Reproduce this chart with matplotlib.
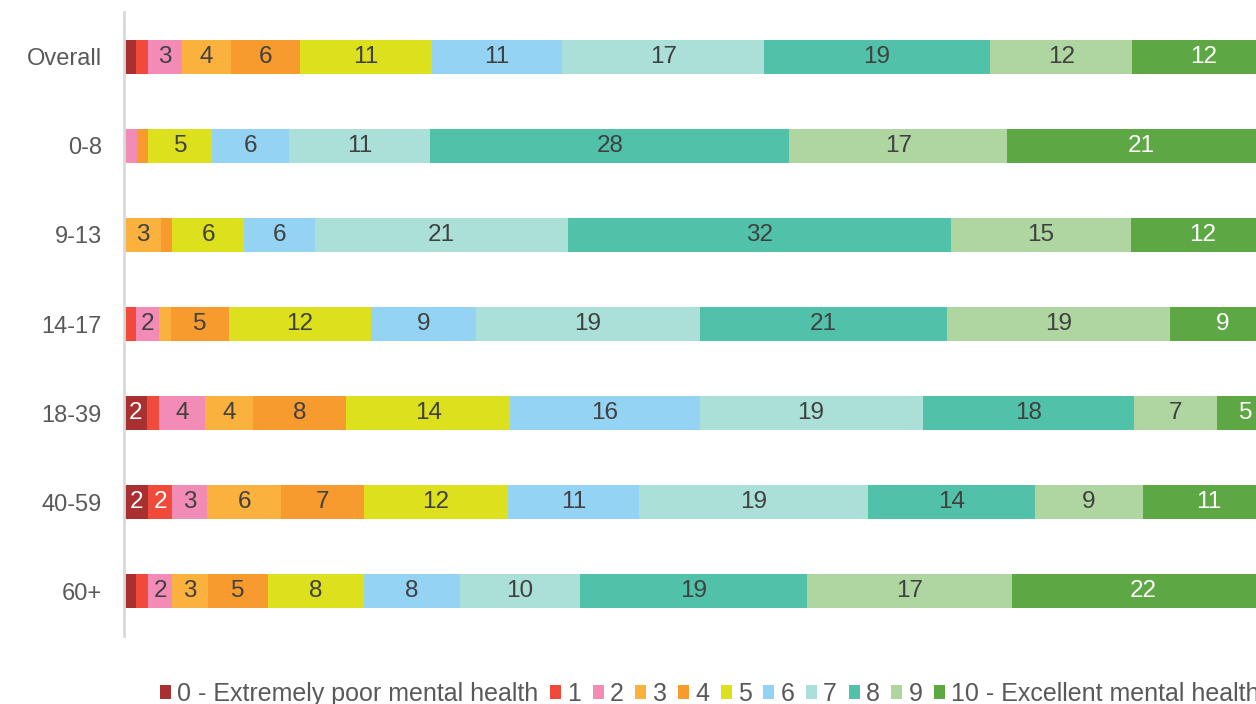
import matplotlib.pyplot as plt
from matplotlib.patches import Patch
import numpy as np

plt.rcParams['font.family'] = ['Liberation Sans', 'DejaVu Sans']

groups = ['Overall', '0-8', '9-13', '14-17', '18-39', '40-59', '60+']
score_names = ['0 - Extremely poor mental health', '1', '2', '3', '4', '5',
               '6', '7', '8', '9', '10 - Excellent mental health']

# percent answering each score, one list per score, one entry per group
score0 = [1.0, 0.0, 0.0, 0.0, 2.0, 2.0, 1.0]
score1 = [1.0, 0.0, 0.0, 1.0, 1.0, 2.0, 1.0]
score2 = [2.9, 1.0, 0.0, 2.0, 3.9, 2.9, 2.0]
score3 = [4.1, 0.0, 3.1, 1.0, 4.1, 6.2, 3.0]
score4 = [5.8, 0.9, 0.9, 4.9, 7.9, 6.9, 5.0]
score5 = [11.1, 5.0, 6.0, 12.1, 14.0, 12.0, 8.0]
score6 = [11.0, 6.0, 5.9, 8.9, 16.1, 10.9, 8.0]
score7 = [17.0, 11.0, 21.1, 19.1, 19.0, 19.1, 10.0]
score8 = [19.0, 28.0, 31.9, 21.0, 18.0, 13.9, 18.9]
score9 = [12.0, 17.0, 15.0, 19.0, 7.1, 9.0, 17.1]
score10 = [12.0, 20.9, 12.0, 8.9, 4.9, 11.0, 21.9]

colors = ['#A83030', '#F04B3A', '#F28BB5', '#FBB13D', '#F79B2E', '#DCE01D',
          '#94D3F3', '#AAE0D7', '#52C1A9', '#AFD6A1', '#5DA744']
white_text = {0, 1, 10}

data = np.array([score0, score1, score2, score3, score4, score5,
                 score6, score7, score8, score9, score10])
shares = data / data.sum(axis=0) * 100

fig = plt.figure(figsize=(12.56, 7.04), dpi=100)
ax = fig.add_axes([124 / 1256, 68 / 704, 1151 / 1256, 624 / 704])

y = np.arange(len(groups))
left = np.zeros(len(groups))
for i in range(len(score_names)):
    ax.barh(y, shares[i], left=left, height=0.38, color=colors[i],
            edgecolor='none')
    for j in range(len(groups)):
        if data[i, j] >= 1.5:
            ax.text(left[j] + shares[i, j] / 2, y[j], f"{data[i, j]:.0f}",
                    ha='center', va='center', fontsize=17.5,
                    color='white' if i in white_text else '#404040')
    left += shares[i]

ax.set_xlim(0, 100)
ax.set_ylim(len(groups) - 0.5, -0.5)
ax.set_yticks(y)
ax.set_yticklabels(groups, fontsize=17, color='#595959')
ax.tick_params(axis='y', length=0, pad=16)
ax.set_xticks([])
for side in ['top', 'right', 'bottom']:
    ax.spines[side].set_visible(False)
ax.spines['left'].set_color('#D9D9D9')
ax.spines['left'].set_linewidth(2)

handles = [Patch(facecolor=c, edgecolor='none') for c in colors]
leg = fig.legend(handles, score_names, loc='center left',
                 bbox_to_anchor=(160 / 1256, 1 - 694 / 704), ncol=11,
                 frameon=False, fontsize=18, handlelength=0.44,
                 handleheight=0.44, handletextpad=0.25, columnspacing=0.46,
                 borderaxespad=0, borderpad=0)
for t in leg.get_texts():
    t.set_color('#595959')

fig.savefig('out.png', dpi=100)
